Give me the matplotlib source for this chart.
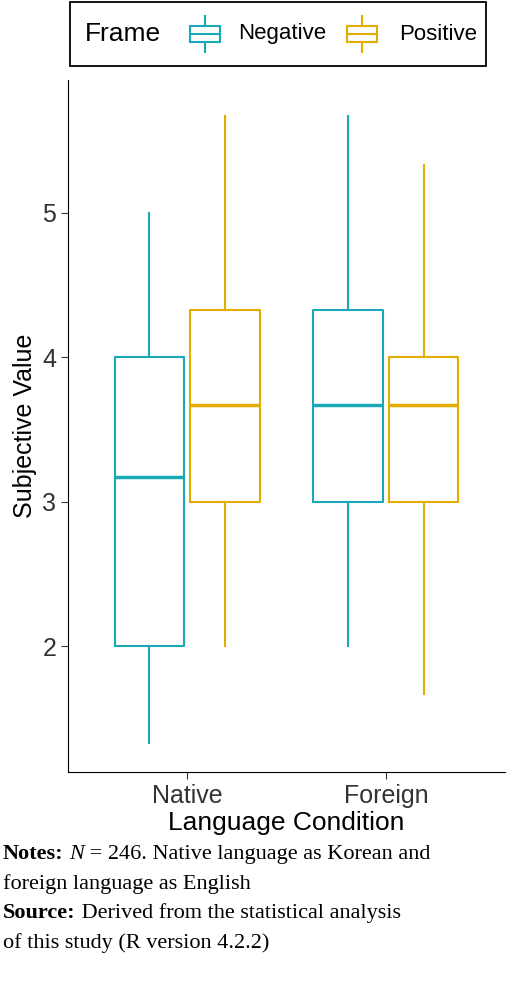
import matplotlib
matplotlib.use("Agg")
import matplotlib.pyplot as plt
from matplotlib.patches import Rectangle
from matplotlib.lines import Line2D

plt.rcParams['font.family'] = ['Liberation Sans', 'DejaVu Sans']

categories = ["Native", "Foreign"]
frames = ["Negative", "Positive"]
colors = {"Negative": "#1AA9B8", "Positive": "#E5AC00"}
# [whislo, q1, med, q3, whishi]
stats_vals = {
    ("Native", "Negative"): [1.33, 2.0, 3.17, 4.0, 5.0],
    ("Native", "Positive"): [2.0, 3.0, 3.67, 4.33, 5.67],
    ("Foreign", "Negative"): [2.0, 3.0, 3.67, 4.33, 5.67],
    ("Foreign", "Positive"): [1.67, 3.0, 3.67, 4.0, 5.33],
}

W, H = 520, 988
fig = plt.figure(figsize=(5.2, 9.88), dpi=100)
ax = fig.add_axes([68/W, 1-772/H, 437/W, 692/H])
for i, cat in enumerate(categories):
    for j, fr in enumerate(frames):
        lo, q1, med, q3, hi = stats_vals[(cat, fr)]
        st = dict(whislo=lo, q1=q1, med=med, q3=q3, whishi=hi, fliers=[])
        c = colors[fr]
        ax.bxp([st], positions=[i + 1 + (j - 0.5) * 0.38], widths=0.35, showcaps=False,
               boxprops=dict(color=c, linewidth=1.5), whiskerprops=dict(color=c, linewidth=1.5),
               medianprops=dict(color=c, linewidth=2.5), manage_ticks=False)
ax.set_xlim(0.4, 2.6)
ax.set_ylim(1.128, 5.92)
ax.set_xticks([1, 2])
ax.set_xticklabels(categories, fontsize=18)
ax.set_yticks([2, 3, 4, 5])
ax.tick_params(labelsize=18, colors="#333333", length=5)
ax.set_xlabel("Language Condition", fontsize=19, labelpad=2)
ax.set_ylabel("Subjective Value", fontsize=18)
for s in ["top", "right"]:
    ax.spines[s].set_visible(False)

# manual legend
def fx(px): return px / W
def fy(py): return 1 - py / H
fig.patches.append(Rectangle((fx(70), fy(66)), fx(486) - fx(70), fy(2) - fy(66),
                             transform=fig.transFigure, fill=False, edgecolor="black", lw=1.3))
fig.text(fx(85), fy(34), "Frame", fontsize=19, va="center", ha="left")
for fr, x0, xt in [("Negative", 190, 238), ("Positive", 347, 399)]:
    c = colors[fr]
    fig.patches.append(Rectangle((fx(x0), fy(42)), fx(30), fy(26) - fy(42),
                                 transform=fig.transFigure, fill=False, edgecolor=c, lw=1.5))
    for (a, b) in [(16, 26), (42, 52)]:
        fig.lines.append(Line2D([fx(x0 + 15)] * 2, [fy(a), fy(b)], transform=fig.transFigure, color=c, lw=1.5))
    fig.lines.append(Line2D([fx(x0), fx(x0 + 30)], [fy(34)] * 2, transform=fig.transFigure, color=c, lw=1.5))
    fig.text(fx(xt), fy(34), fr, fontsize=16, va="center", ha="left")

tf = "Liberation Serif"
lines = [
    [("Notes:", "bold", "normal"), (" ", "normal", "normal"), ("N", "normal", "italic"),
     (" = 246. Native language as Korean and", "normal", "normal")],
    [("foreign language as English", "normal", "normal")],
    [("Source:", "bold", "normal"), (" Derived from the statistical analysis", "normal", "normal")],
    [("of this study (R version 4.2.2)", "normal", "normal")],
]
fig.canvas.draw()
r = fig.canvas.get_renderer()
for k, parts in enumerate(lines):
    x = 3
    y = fy(859 + 29.5 * k)
    for txt, wt, st in parts:
        t = fig.text(fx(x), y, txt, fontsize=16, family=tf, weight=wt, style=st, va="baseline")
        bb = t.get_window_extent(renderer=r)
        x += bb.width
fig.savefig("out.png", dpi=100)
